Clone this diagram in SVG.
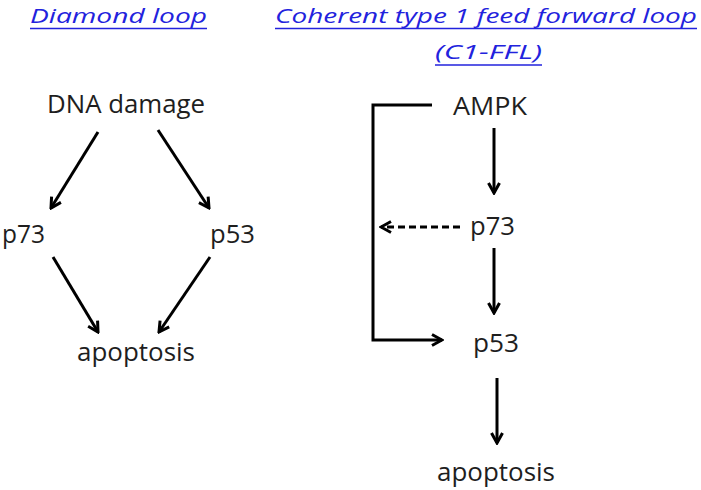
<svg xmlns="http://www.w3.org/2000/svg" width="701" height="490" viewBox="0 0 701 490">
<defs>
<style>
.t{font-family:"Open Sans","Liberation Sans",sans-serif;font-size:25px;fill:#1e1e1e}
.h{font-family:"Open Sans","Liberation Sans",sans-serif;font-size:20.5px;font-style:italic;fill:#2222dd}
.u{stroke:#2222dd;stroke-width:1.5}
.c{stroke:#000;stroke-width:3;fill:none}
.d{stroke-dasharray:7 4}
</style>
<marker id="ah" viewBox="0 0 14 14" refX="12" refY="7" markerWidth="14" markerHeight="14" markerUnits="userSpaceOnUse" orient="auto">
<path d="M2,1.5 L12,7 L2,12.5" fill="none" stroke="#000" stroke-width="3" stroke-linejoin="miter"/>
</marker>
</defs>
<rect width="701" height="490" fill="#fff"/>
<g id="titles">
<text class="h" x="30" y="23" textLength="177" lengthAdjust="spacingAndGlyphs">Diamond loop</text>
<line class="u" x1="30" y1="28.5" x2="207" y2="28.5"/>
<text class="h" x="275" y="23" textLength="422" lengthAdjust="spacingAndGlyphs">Coherent type 1 feed forward loop</text>
<line class="u" x1="275" y1="28.5" x2="697" y2="28.5"/>
<text class="h" x="435" y="59" textLength="107" lengthAdjust="spacingAndGlyphs">(C1-FFL)</text>
<line class="u" x1="435" y1="65" x2="542" y2="65"/>
</g>
<g id="dna"><text class="t" x="47" y="113" textLength="158" lengthAdjust="spacingAndGlyphs">DNA damage</text></g>
<g id="p73L"><text class="t" x="2" y="243" textLength="43" lengthAdjust="spacingAndGlyphs">p73</text></g>
<g id="p53L"><text class="t" x="210" y="243" textLength="45" lengthAdjust="spacingAndGlyphs">p53</text></g>
<g id="apoL"><text class="t" x="77" y="361" textLength="118" lengthAdjust="spacingAndGlyphs">apoptosis</text></g>
<g id="ampk"><text class="t" x="453" y="115" textLength="74" lengthAdjust="spacingAndGlyphs">AMPK</text></g>
<g id="p73R"><text class="t" x="470" y="235" textLength="45" lengthAdjust="spacingAndGlyphs">p73</text></g>
<g id="p53R"><text class="t" x="473" y="352" textLength="46" lengthAdjust="spacingAndGlyphs">p53</text></g>
<g id="apoR"><text class="t" x="437" y="481" textLength="118" lengthAdjust="spacingAndGlyphs">apoptosis</text></g>
<g id="connectors">
<line class="c" x1="98" y1="132" x2="51" y2="208" marker-end="url(#ah)"/>
<line class="c" x1="158" y1="130" x2="209" y2="208" marker-end="url(#ah)"/>
<line class="c" x1="53" y1="257" x2="98" y2="332" marker-end="url(#ah)"/>
<line class="c" x1="210" y1="257" x2="159" y2="332" marker-end="url(#ah)"/>
<path class="c" d="M432,105 H373 V340 H442" marker-end="url(#ah)"/>
<line class="c" x1="494" y1="128" x2="494" y2="193" marker-end="url(#ah)"/>
<line class="c d" x1="460" y1="227" x2="381" y2="227" marker-end="url(#ah)"/>
<line class="c" x1="494" y1="248" x2="494" y2="313" marker-end="url(#ah)"/>
<line class="c" x1="497" y1="378" x2="497" y2="443" marker-end="url(#ah)"/>
</g>
</svg>
